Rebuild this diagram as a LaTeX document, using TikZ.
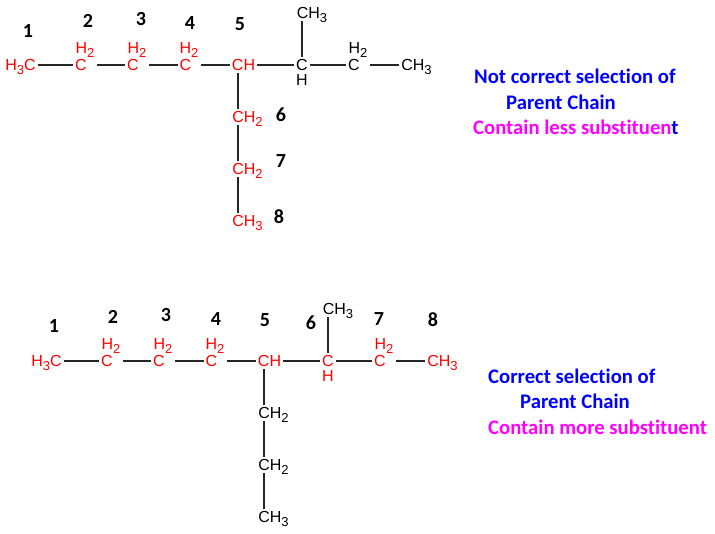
\documentclass[tikz,border=0pt]{standalone}
\usepackage{fontspec}
\setmainfont{Liberation Sans}
\newfontfamily\labelfont[Ligatures=NoCommon]{Carlito}
\usepackage{xcolor}
\definecolor{chainred}{RGB}{255,0,0}
\definecolor{noteblue}{RGB}{0,0,255}
\definecolor{notepink}{RGB}{255,0,255}
\newcommand{\subs}[1]{\raisebox{-3.5pt}{\fontsize{13}{13}\selectfont #1}}
\tikzset{
    atom/.style={font=\fontsize{16}{16}\selectfont, inner sep=0pt, outer sep=2pt, text height=11.5pt, text depth=0pt},
    num/.style={font=\labelfont\bfseries\fontsize{20}{20}\selectfont, inner sep=0pt},
    note/.style={font=\labelfont\bfseries\fontsize{20.7}{20.7}\selectfont, inner sep=0pt, anchor=base west},
    bond/.style={line width=1.3pt, black!85},
    after/.style={bond, shorten <=8pt}
}

\begin{document}
\begin{tikzpicture}[x=1pt,y=-1pt]
    \useasboundingbox (0,0) rectangle (715,534);
    \begin{scope}
        % upper chain
        \node[atom, chainred] (a1) at (20.5,65) {H\subs{3}C};
        \node[atom, chainred] (a2) at (81,65) {C};
        \node[atom, chainred] (a3) at (133,65) {C};
        \node[atom, chainred] (a4) at (185.5,65) {C};
        \node[atom, chainred] (a5) at (243.5,65) {CH};
        \node[atom] (a6) at (302,65) {C};
        \node[atom] (a7) at (354,65) {C};
        \node[atom] (a8) at (416.5,65) {CH\subs{3}};
        \node[atom] (m1) at (312,13) {CH\subs{3}};
        \node[atom, chainred] (b1) at (247.5,117) {CH\subs{2}};
        \node[atom, chainred] (b2) at (247.5,169) {CH\subs{2}};
        \node[atom, chainred] (b3) at (247.5,221) {CH\subs{3}};
        \node[atom, chainred] (h2) at (85,48) {H\subs{2}};
        \node[atom, chainred] (h3) at (137,48) {H\subs{2}};
        \node[atom, chainred] (h4) at (189,48) {H\subs{2}};
        \node[atom] (h6) at (302,80) {H};
        \node[atom] (h7) at (358,48) {H\subs{2}};
        \draw[bond] (a1)--(a2);
        \draw[after] (a2)--(a3);
        \draw[after] (a3)--(a4);
        \draw[after] (a4)--(a5);
        \draw[bond] (a5)--(a6);
        \draw[bond] (a6)--(a7);
        \draw[after] (a7)--(a8);
        \draw[bond] ([xshift=-5.5pt]a5.south)--([xshift=-9.5pt]b1.north);
        \draw[bond] ([xshift=-9.5pt]b1.south)--([xshift=-9.5pt]b2.north);
        \draw[bond] ([xshift=-9.5pt]b2.south)--([xshift=-9.5pt]b3.north);
        \draw[bond] (a6)--([xshift=-10pt]m1.south);
        \node[num] (n1) at (28,31) {1};
        \node[num] (n2) at (88,21) {2};
        \node[num] (n3) at (141,19) {3};
        \node[num] (n4) at (190,23) {4};
        \node[num] (n5) at (240,24) {5};
        \node[num] (n6) at (281,115) {6};
        \node[num] (n7) at (281,161) {7};
        \node[num] (n8) at (279,217) {8};
        \node[note, noteblue] (t1) at (474,84) {Not correct selection of};
        \node[note, noteblue] (t2) at (506,110) {Parent Chain};
        \node[note, notepink] (t3) at (473,135) {Contain less substituen\textcolor{noteblue}{t}};
    \end{scope}
    \begin{scope}[xshift=26pt,yshift=-296pt]
        % lower chain
        \node[atom, chainred] (aa1) at (20.5,65) {H\subs{3}C};
        \node[atom, chainred] (aa2) at (81,65) {C};
        \node[atom, chainred] (aa3) at (133,65) {C};
        \node[atom, chainred] (aa4) at (185.5,65) {C};
        \node[atom, chainred] (aa5) at (243.5,65) {CH};
        \node[atom, chainred] (aa6) at (302,65) {C};
        \node[atom, chainred] (aa7) at (354,65) {C};
        \node[atom, chainred] (aa8) at (416.5,65) {CH\subs{3}};
        \node[atom] (mm1) at (312,13) {CH\subs{3}};
        \node[atom] (bb1) at (247.5,117) {CH\subs{2}};
        \node[atom] (bb2) at (247.5,169) {CH\subs{2}};
        \node[atom] (bb3) at (247.5,221) {CH\subs{3}};
        \node[atom, chainred] (hh2) at (85,48) {H\subs{2}};
        \node[atom, chainred] (hh3) at (137,48) {H\subs{2}};
        \node[atom, chainred] (hh4) at (189,48) {H\subs{2}};
        \node[atom, chainred] (hh6) at (302,80) {H};
        \node[atom, chainred] (hh7) at (358,48) {H\subs{2}};
        \draw[bond] (aa1)--(aa2);
        \draw[after] (aa2)--(aa3);
        \draw[after] (aa3)--(aa4);
        \draw[after] (aa4)--(aa5);
        \draw[bond] (aa5)--(aa6);
        \draw[bond] (aa6)--(aa7);
        \draw[after] (aa7)--(aa8);
        \draw[bond] ([xshift=-5.5pt]aa5.south)--([xshift=-9.5pt]bb1.north);
        \draw[bond] ([xshift=-9.5pt]bb1.south)--([xshift=-9.5pt]bb2.north);
        \draw[bond] ([xshift=-9.5pt]bb2.south)--([xshift=-9.5pt]bb3.north);
        \draw[bond] (aa6)--([xshift=-10pt]mm1.south);
    \end{scope}
    \node[num] (nn1) at (54,326) {1};
    \node[num] (nn2) at (113,317) {2};
    \node[num] (nn3) at (166,315) {3};
    \node[num] (nn4) at (216,319) {4};
    \node[num] (nn5) at (265,320) {5};
    \node[num] (nn6) at (311,323) {6};
    \node[num] (nn7) at (379,319) {7};
    \node[num] (nn8) at (433,320) {8};
    \node[note, noteblue] (tt1) at (488,384) {Correct selection of};
    \node[note, noteblue] (tt2) at (520,409) {Parent Chain};
    \node[note, notepink] (tt3) at (488,435) {Contain more substituent};
\end{tikzpicture}
\end{document}
